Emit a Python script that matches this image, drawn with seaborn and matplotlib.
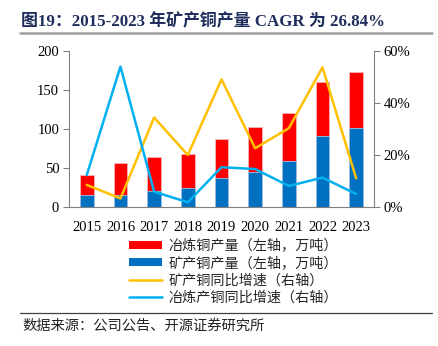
import matplotlib
matplotlib.use("Agg")
import matplotlib.pyplot as plt
import seaborn as sns
import numpy as np
import pandas as pd
from matplotlib.patches import Patch
from matplotlib.lines import Line2D

years = ["2015", "2016", "2017", "2018", "2019", "2020", "2021", "2022", "2023"]
smelt_output = [41, 56, 64, 68, 87, 103, 121, 160, 173]
mine_output = [15, 15, 21, 25, 37, 45, 59, 91, 101]
mine_growth = [8.5, 3.3, 34.4, 20.0, 49.1, 22.6, 30.3, 53.7, 11.0]
smelt_growth = [12.3, 54.0, 5.9, 1.8, 15.3, 14.6, 8.1, 11.3, 5.0]

sns.set_theme(style="white")
plt.rcParams['font.family'] = ['Liberation Serif', 'Noto Sans CJK SC', 'DejaVu Sans']

RED = "#FF0000"
BLUE = "#0070C0"
ORANGE = "#FFC000"
CYAN = "#00B0F0"

df = pd.DataFrame({"year": years, "smelt": smelt_output, "mine": mine_output,
                   "mg": mine_growth, "sg": smelt_growth})
df["idx"] = np.arange(len(df))

fig = plt.figure(figsize=(4.39, 3.46), dpi=100)
ax = fig.add_axes([0.157, 0.4017, 0.695, 0.4509])

sns.barplot(data=df, x="year", y="smelt", color=RED, width=0.4, ax=ax,
            saturation=1, edgecolor="#F4B8B8", linewidth=0.6)
sns.barplot(data=df, x="year", y="mine", color=BLUE, width=0.4, ax=ax,
            saturation=1, edgecolor="#9DC3E6", linewidth=0.6)
ax.set_ylim(0, 200)
ax.set_yticks([0, 50, 100, 150, 200])
ax.set_xlim(-0.53, 8.53)
ax.set_xlabel("")
ax.set_ylabel("")

ax2 = ax.twinx()
sns.lineplot(data=df, x="idx", y="mg", color=ORANGE, linewidth=1.8, ax=ax2)
sns.lineplot(data=df, x="idx", y="sg", color=CYAN, linewidth=1.8, ax=ax2)
ax2.set_ylim(0, 60)
ax2.set_yticks([0, 20, 40, 60])
ax2.set_yticklabels(["0%", "20%", "40%", "60%"])
ax2.set_xlim(-0.53, 8.53)
ax2.set_xlabel("")
ax2.set_ylabel("")

for a in (ax, ax2):
    for s in a.spines.values():
        s.set_color("#808080")
        s.set_linewidth(0.8)
    a.spines["top"].set_visible(False)
ax.spines["right"].set_visible(False)
ax2.spines["left"].set_visible(False)
ax2.spines["bottom"].set_visible(False)

ax.set_xticks(np.arange(len(years)))
ax.set_xticklabels(years)
ax.tick_params(axis="x", length=0, labelsize=10.5, pad=10, colors="black")
ax.set_xticks(np.arange(len(years) + 1) - 0.5, minor=True)
ax.tick_params(axis="x", which="minor", length=4, width=0.8, color="#808080", direction="out")
ax.tick_params(axis="y", length=4, width=0.8, color="#808080", direction="out",
               labelsize=10.5, labelcolor="black", left=True, pad=3)
ax2.tick_params(axis="y", length=4, width=0.8, color="#808080", direction="out",
                labelsize=10.5, labelcolor="black", right=True, pad=3)
ax.grid(False)
ax2.grid(False)

handles = [Patch(facecolor=RED, edgecolor="none"),
           Patch(facecolor=BLUE, edgecolor="none"),
           Line2D([0], [0], color=ORANGE, lw=1.8),
           Line2D([0], [0], color=CYAN, lw=1.8)]
labels = ["冶炼铜产量（左轴，万吨）", "矿产铜产量（左轴，万吨）",
          "矿产铜同比增速（右轴）", "冶炼产铜同比增速（右轴）"]
leg = fig.legend(handles, labels, loc="upper left", bbox_to_anchor=(0.282, 0.325),
                 frameon=False, handlelength=2.3, handleheight=0.5,
                 labelspacing=0.22, handletextpad=0.45, borderaxespad=0,
                 prop={"family": ["Noto Sans CJK SC", "DejaVu Sans"], "size": 10.2})

fig.text(0.048, 0.936, "图19：2015-2023 年矿产铜产量 CAGR 为 26.84%",
         fontsize=12.2, fontweight="bold", color="#1F2D5C",
         family=["Liberation Serif", "Noto Sans CJK SC"], va="center")
fig.add_artist(Line2D([0.045, 0.985], [0.905, 0.905], color="#A0A0A0", lw=1.8,
                      transform=fig.transFigure))
fig.add_artist(Line2D([0.045, 0.985], [0.095, 0.095], color="#404040", lw=0.9,
                      transform=fig.transFigure))
fig.text(0.05, 0.058, "数据来源：公司公告、开源证券研究所", fontsize=10.3,
         family=["Noto Sans CJK SC", "DejaVu Sans"], color="#222222", va="center")

fig.savefig("out.png", dpi=100)
